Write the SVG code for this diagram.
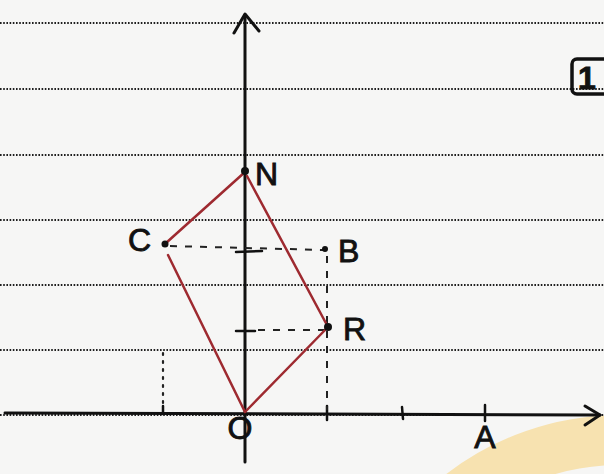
<svg xmlns="http://www.w3.org/2000/svg" width="604" height="474" viewBox="0 0 604 474">
  <style>
    .rule { stroke: #1e1e1e; stroke-width: 2.2; stroke-dasharray: 1.6 1.6; fill: none; }
    .axis { stroke: #111; stroke-width: 3; fill: none; stroke-linecap: round; stroke-linejoin: round; }
    .tick { stroke: #111; stroke-width: 2.5; stroke-linecap: round; }
    .red { stroke: #9e2a30; stroke-width: 2.5; fill: none; stroke-linecap: round; }
    .dash { stroke: #222; stroke-width: 2; stroke-dasharray: 7 8; fill: none; }
    .dot { stroke: #222; stroke-width: 2.2; stroke-dasharray: 2 6; fill: none; stroke-linecap: round; }
    .pt { fill: #111; }
    .lbl { font-family: "Liberation Sans", "DejaVu Sans", sans-serif; fill: #111; stroke: #111; stroke-width: 0.9; font-size: 32px; }
  </style>
  <rect width="604" height="474" fill="#f6f6f5"/>
  <circle cx="620" cy="700" r="260" fill="none" stroke="#f7e2b0" stroke-width="50"/>

  <g id="ruled-lines">
    <line class="rule" x1="0" y1="23" x2="604" y2="23"/>
    <line class="rule" x1="0" y1="89" x2="604" y2="89"/>
    <line class="rule" x1="0" y1="155" x2="604" y2="155"/>
    <line class="rule" x1="0" y1="220" x2="604" y2="220"/>
    <line class="rule" x1="0" y1="285" x2="604" y2="285"/>
    <line class="rule" x1="0" y1="350" x2="604" y2="350"/>
    <line class="rule" x1="0" y1="415" x2="604" y2="415"/>
  </g>

  <g id="axes">
    <line class="axis" x1="245" y1="15" x2="245" y2="462"/>
    <polyline class="axis" points="234,33 245,14 259,31"/>
    <line class="axis" x1="5" y1="413" x2="600" y2="415"/>
    <polyline class="axis" points="585,406 600,415 585,425"/>
    <line class="tick" x1="163" y1="406" x2="163" y2="414"/>
    <line class="tick" x1="327" y1="406" x2="327" y2="420"/>
    <line class="tick" x1="402" y1="407" x2="403" y2="419"/>
    <line class="tick" x1="485" y1="405" x2="485" y2="421"/>
    <line class="tick" x1="236" y1="252" x2="262" y2="251"/>
    <line class="tick" x1="236" y1="331" x2="255" y2="331"/>
  </g>

  <g id="connectors">
    <line class="dash" x1="170" y1="246" x2="324" y2="250"/>
    <line class="dash" x1="258" y1="330" x2="325" y2="330"/>
    <line class="dash" x1="327" y1="256" x2="327" y2="410"/>
    <line class="dot" x1="163" y1="353" x2="163" y2="404"/>
    <line class="red" x1="245" y1="172" x2="166" y2="243"/>
    <line class="red" x1="168" y1="255" x2="245" y2="412"/>
    <line class="red" x1="245" y1="412" x2="328" y2="327"/>
    <line class="red" x1="328" y1="327" x2="247" y2="176"/>
  </g>

  <g id="N"><circle class="pt" cx="245" cy="171" r="4"/><text class="lbl" x="255" y="185">N</text></g>
  <g id="C"><circle class="pt" cx="165" cy="244" r="3.5"/><text class="lbl" x="128" y="251" font-size="28">C</text></g>
  <g id="B"><circle class="pt" cx="325" cy="249" r="3"/><text class="lbl" x="338" y="262" font-size="30">B</text></g>
  <g id="R"><circle class="pt" cx="328" cy="327" r="4"/><text class="lbl" x="343" y="340">R</text></g>
  <g id="O"><text class="lbl" x="240" y="439" font-size="16" text-anchor="middle">O</text></g>
  <g id="A"><text class="lbl" x="485" y="448" font-size="30" text-anchor="middle">A</text></g>
  <g id="box1">
    <rect x="572" y="59" width="40" height="35" rx="5" fill="none" stroke="#111" stroke-width="3.5"/>
    <text class="lbl" x="587" y="89" font-size="28" font-weight="bold" text-anchor="middle">1</text>
  </g>
</svg>
